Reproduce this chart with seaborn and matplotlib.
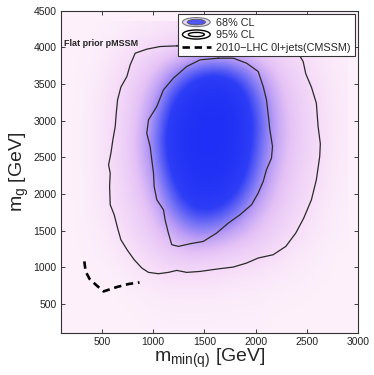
import numpy as np
import seaborn as sns
import matplotlib
matplotlib.use("Agg")
import matplotlib.pyplot as plt
from matplotlib.colors import LinearSegmentedColormap
from matplotlib.patches import Ellipse, Patch
from matplotlib.lines import Line2D
from matplotlib.legend_handler import HandlerBase

# posterior density on a coarse grid (peak = 1)
grid_x = [200, 400, 600, 800, 1000, 1200, 1400, 1600, 1800, 2000, 2200, 2400, 2600, 2800]
grid_y = [300, 600, 900, 1200, 1500, 1800, 2100, 2400, 2700, 3000, 3300, 3600, 3900, 4200]
density = [
    [.00, .00, .00, .00, .01, .01, .01, .01, .01, .01, .00, .00, .00, .00],
    [.00, .00, .00, .01, .02, .03, .03, .03, .02, .02, .01, .01, .00, .00],
    [.00, .00, .01, .03, .07, .10, .10, .09, .07, .06, .03, .02, .01, .00],
    [.00, .01, .03, .08, .15, .22, .25, .22, .18, .15, .10, .05, .02, .00],
    [.00, .01, .05, .13, .22, .36, .50, .48, .36, .25, .16, .09, .04, .01],
    [.00, .02, .08, .16, .28, .55, .75, .75, .60, .36, .22, .13, .06, .01],
    [.00, .02, .09, .19, .36, .70, .90, .92, .80, .50, .27, .16, .08, .02],
    [.00, .02, .10, .21, .44, .82, .97, .98, .92, .60, .32, .18, .10, .02],
    [.00, .02, .10, .22, .48, .88, 1.0, 1.0, .96, .66, .35, .20, .11, .03],
    [.00, .02, .10, .21, .44, .84, .98, 1.0, .97, .68, .35, .20, .11, .03],
    [.00, .02, .09, .19, .36, .70, .92, .96, .90, .60, .32, .18, .10, .03],
    [.00, .01, .07, .15, .27, .48, .70, .78, .68, .46, .25, .15, .08, .02],
    [.00, .01, .04, .10, .15, .22, .30, .35, .32, .24, .16, .11, .05, .02],
    [.00, .00, .01, .03, .05, .07, .08, .08, .07, .06, .05, .04, .02, .01],
]

# 95% CL contour
cl95_x = [1231, 1068, 938, 825, 776, 744, 685, 653, 640, 630, 607, 588, 565, 581, 575,
          581, 620, 653, 685, 750, 815, 890, 955, 1052, 1149, 1231, 1328, 1458, 1620,
          1783, 1912, 2026, 2172, 2296, 2393, 2471, 2546, 2594, 2627, 2633, 2611, 2594,
          2546, 2491, 2465, 2432, 2335, 1783, 1231]
cl95_y = [4022, 4013, 3977, 3922, 3763, 3604, 3458, 3285, 3103, 2921, 2739, 2557, 2398,
          2284, 2102, 1852, 1715, 1533, 1374, 1228, 1101, 987, 928, 910, 928, 955, 928,
          941, 973, 1001, 1055, 1124, 1169, 1283, 1465, 1670, 1920, 2193, 2512, 2685,
          2921, 3240, 3458, 3640, 3809, 3886, 4013, 4059, 4022]

# 68% CL contour
cl68_x = [1636, 1783, 1912, 2026, 2075, 2107, 2124, 2140, 2166, 2156, 2107, 2075, 2026,
          1961, 1848, 1734, 1620, 1490, 1360, 1247, 1182, 1149, 1117, 1101, 1036, 1010,
          1004, 987, 971, 938, 955, 1036, 1101, 1198, 1328, 1458, 1636]
cl68_y = [3854, 3854, 3786, 3672, 3467, 3285, 3080, 2876, 2648, 2489, 2330, 2170, 2011,
          1852, 1715, 1601, 1465, 1351, 1319, 1283, 1306, 1465, 1647, 1783, 1920, 2102,
          2284, 2466, 2648, 2830, 3012, 3194, 3422, 3581, 3740, 3831, 3854]

# 2010 LHC 0l+jets limit (CMSSM)
lhc_x = [328, 341, 380, 451, 516, 646, 760, 867]
lhc_y = [1078, 941, 837, 746, 668, 728, 769, 791]

sns.set_theme(style="ticks")
plt.rcParams['font.family'] = ['Liberation Sans', 'DejaVu Sans']
plt.rcParams['mathtext.fontset'] = 'custom'
plt.rcParams['mathtext.rm'] = 'Liberation Sans'
plt.rcParams['mathtext.it'] = 'Liberation Sans'

cmap = LinearSegmentedColormap.from_list(
    "pmssm", [(0.0, "#fdf0fb"), (0.1, "#f6dcf8"), (0.25, "#e4c2f6"), (0.4, "#b99bf5"),
              (0.55, "#7572f5"), (0.72, "#2e3df6"), (1.0, "#1f2ff5")])


class CLHandler(HandlerBase):
    def __init__(self, filled):
        super().__init__()
        self.filled = filled

    def create_artists(self, legend, orig_handle, xdescent, ydescent, width, height, fontsize, trans):
        cx = width / 2 - xdescent
        cy = height / 2 - ydescent
        if self.filled:
            arts = [Ellipse((cx, cy), width * 0.95, height * 1.2, fc="#e4d4f4", ec="#777777", lw=0.8),
                    Ellipse((cx, cy), width * 0.62, height * 0.75, fc="#4f55ee", ec="#555555", lw=0.6)]
        else:
            arts = [Ellipse((cx, cy), width * 0.95, height * 1.2, fc="white", ec="black", lw=1.0),
                    Ellipse((cx, cy), width * 0.55, height * 0.55, fc="white", ec="black", lw=1.0)]
        for a in arts:
            a.set_transform(trans)
        return arts


fig = plt.figure(figsize=(3.74, 3.75), dpi=100)
ax = fig.add_axes([0.163, 0.112, 0.794, 0.859])
ax.set_facecolor(cmap(0.0))

ax.imshow(np.array(density), cmap=cmap, vmin=0, vmax=1, origin="lower",
          extent=[100, 2900, 150, 4350], interpolation="bicubic", aspect="auto")

sns.lineplot(x=cl95_x, y=cl95_y, sort=False, estimator=None, color="#2a2a2a", lw=0.9, ax=ax)
sns.lineplot(x=cl68_x, y=cl68_y, sort=False, estimator=None, color="#2a2a2a", lw=0.9, ax=ax)
sns.lineplot(x=lhc_x, y=lhc_y, sort=False, estimator=None, color="black", lw=1.9,
             dashes=False, ax=ax)
ax.lines[-1].set_linestyle((0, (2.8, 1.8)))

ax.set_xlim(100, 3000)
ax.set_ylim(100, 4500)
ax.set_xticks([500, 1000, 1500, 2000, 2500, 3000])
ax.set_yticks([500, 1000, 1500, 2000, 2500, 3000, 3500, 4000, 4500])
ax.tick_params(direction="in", length=3, width=0.6, labelsize=7.5, top=True, right=True,
               colors="#222222", pad=3)
for s in ax.spines.values():
    s.set_linewidth(0.8)
    s.set_color("#333333")

ax.set_xlabel(r"m$_{\mathregular{min(q)}}$ [GeV]", fontsize=14, labelpad=0)
ax.set_ylabel(r"m$_{\mathregular{g}}$ [GeV]", fontsize=14, labelpad=2)

ax.text(130, 4060, "Flat prior pMSSM", fontsize=6.5, fontweight="bold", va="center", ha="left")

h68 = Patch(label="68% CL")
h95 = Patch(label="95% CL")
hlhc = Line2D([], [], color="black", lw=1.9, ls=(0, (2.8, 1.8)), label="2010\u2212LHC 0l+jets(CMSSM)")
leg = ax.legend(handles=[h68, h95, hlhc], loc="upper right", fontsize=7.8,
                handler_map={h68: CLHandler(True), h95: CLHandler(False)},
                frameon=True, fancybox=False, borderaxespad=0.3, handlelength=2.7,
                handletextpad=0.5, labelspacing=0.22, borderpad=0.35)
leg.get_frame().set_edgecolor("#333333")
leg.get_frame().set_linewidth(0.8)
leg.get_frame().set_alpha(1)

fig.savefig("out.png", dpi=100)
